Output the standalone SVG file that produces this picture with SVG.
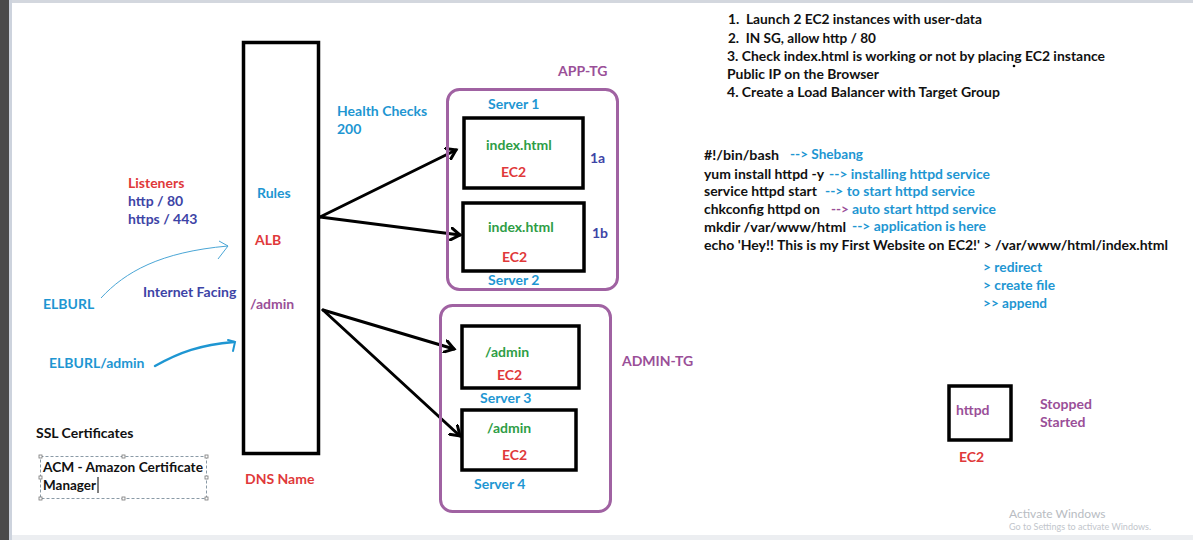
<svg xmlns="http://www.w3.org/2000/svg" width="1193" height="540" viewBox="0 0 1193 540">
<style>
text{font-family:"Lato","Liberation Sans",sans-serif;font-weight:bold;font-size:14px}
.k{fill:#111}
.r{fill:#e0393a}
.b{fill:#1e96d2}
.i{fill:#3d44a6}
.g{fill:#2e9d46}
.p{fill:#9a4f98}
.box{fill:none;stroke:#000;stroke-width:3.5}
.tg{fill:none;stroke:#a062a2;stroke-width:3}
.con{fill:none;stroke:#000;stroke-width:3;stroke-linecap:round}
</style>
<defs>
<marker id="ah" markerWidth="14" markerHeight="14" refX="10" refY="7" orient="auto" markerUnits="userSpaceOnUse">
<path d="M1,1 L10,7 L1,13" fill="none" stroke="#000" stroke-width="3" stroke-linecap="round"/>
</marker>
</defs>
<rect width="1193" height="540" fill="#fff"/>
<rect x="0" y="0" width="1193" height="3" fill="#d3d7de"/>
<rect x="0" y="535" width="1193" height="5" fill="#eceef1"/>
<rect x="0" y="0" width="9" height="540" fill="#4a4a4a"/>
<rect x="9" y="0" width="3" height="540" fill="#cdd3dd"/>

<g id="connectors">
<line class="con" x1="320" y1="217" x2="456" y2="150" marker-end="url(#ah)"/>
<line class="con" x1="320" y1="217" x2="460" y2="235" marker-end="url(#ah)"/>
<line class="con" x1="323" y1="310" x2="454" y2="349" marker-end="url(#ah)"/>
<line class="con" x1="323" y1="310" x2="460" y2="436" marker-end="url(#ah)"/>
<path d="M101,298 C125,272 160,252 228,246" fill="none" stroke="#4aa6d6" stroke-width="1"/>
<path d="M219,241 L228,246 L218,259" fill="none" stroke="#4aa6d6" stroke-width="1"/>
<path d="M155,366 C180,352 200,345 234,342" fill="none" stroke="#1e96d2" stroke-width="2.5" stroke-linecap="round"/>
<path d="M228,340 L235,342 L233,351" fill="none" stroke="#1e96d2" stroke-width="2" stroke-linecap="round"/>
</g>

<g id="alb">
<rect class="box" x="243.5" y="42.5" width="75" height="411" stroke-width="3"/>
<text class="b" x="257" y="198">Rules</text>
<text class="r" x="255" y="245">ALB</text>
<text class="p" x="250" y="309">/admin</text>
<text class="r" x="245" y="484">DNS Name</text>
</g>

<g id="listeners">
<text class="r" x="128" y="188">Listeners</text>
<text class="i" x="128" y="206">http / 80</text>
<text class="i" x="128" y="224">https / 443</text>
</g>
<text class="i" x="143" y="297">Internet Facing</text>
<g id="elburl"><text class="b" x="43" y="309">ELBURL</text></g>
<g id="elburl-admin"><text class="b" x="49" y="368">ELBURL/admin</text></g>

<g id="ssl">
<text class="k" x="36" y="438">SSL Certificates</text>
<rect x="40.5" y="456.5" width="166" height="42" fill="none" stroke="#8a9aa6" stroke-width="1" stroke-dasharray="3,2"/>
<g fill="#fff" stroke="#777" stroke-width="0.8">
<rect x="39" y="455" width="3" height="3"/><rect x="122" y="455" width="3" height="3"/><rect x="205" y="455" width="3" height="3"/>
<rect x="39" y="497" width="3" height="3"/><rect x="122" y="497" width="3" height="3"/><rect x="205" y="497" width="3" height="3"/>
<rect x="39" y="476" width="3" height="3"/><rect x="205" y="476" width="3" height="3"/>
</g>
<text class="k" x="43" y="472" textLength="160" lengthAdjust="spacingAndGlyphs">ACM - Amazon Certificate</text>
<text class="k" x="43" y="490" textLength="53" lengthAdjust="spacingAndGlyphs">Manager</text>
<line x1="98" y1="477" x2="98" y2="493" stroke="#000" stroke-width="1"/>
</g>

<g id="app-tg">
<rect class="tg" x="447.5" y="89.5" width="170" height="200" rx="12"/>
<text class="p" x="558" y="76">APP-TG</text>
<text class="b" x="337" y="116">Health Checks</text>
<text class="b" x="337" y="134">200</text>
</g>
<g id="server1">
<rect class="box" x="464" y="118" width="119" height="70"/>
<text class="b" x="488" y="109">Server 1</text>
<text class="g" x="486" y="150">index.html</text>
<text class="r" x="501" y="177">EC2</text>
<text class="i" x="590" y="163">1a</text>
</g>
<g id="server2">
<rect class="box" x="463" y="203" width="121" height="68"/>
<text class="g" x="488" y="232">index.html</text>
<text class="r" x="502" y="262">EC2</text>
<text class="i" x="592" y="238">1b</text>
<text class="b" x="488" y="285">Server 2</text>
</g>

<g id="admin-tg">
<rect class="tg" x="440.5" y="305.5" width="170" height="206" rx="12"/>
<text class="p" x="622" y="366">ADMIN-TG</text>
</g>
<g id="server3">
<rect class="box" x="462" y="326" width="117" height="62"/>
<text class="g" x="485" y="357">/admin</text>
<text class="r" x="497" y="380">EC2</text>
<text class="b" x="480" y="403">Server 3</text>
</g>
<g id="server4">
<rect class="box" x="462" y="410" width="114" height="60"/>
<text class="g" x="487" y="433">/admin</text>
<text class="r" x="502" y="460">EC2</text>
<text class="b" x="474" y="489">Server 4</text>
</g>

<g id="steps">
<text class="k" x="728" y="24" textLength="254" lengthAdjust="spacingAndGlyphs" xml:space="preserve">1.  Launch 2 EC2 instances with user-data</text>
<text class="k" x="728" y="43" textLength="148" lengthAdjust="spacingAndGlyphs" xml:space="preserve">2.  IN SG, allow http / 80</text>
<text class="k" x="727" y="61" textLength="378" lengthAdjust="spacingAndGlyphs">3. Check index.html is working or not by placing EC2 instance</text>
<text class="k" x="727" y="79" textLength="152" lengthAdjust="spacingAndGlyphs">Public IP on the Browser</text>
<text class="k" x="727" y="97" textLength="273" lengthAdjust="spacingAndGlyphs">4. Create a Load Balancer with Target Group</text>
<circle cx="1014" cy="66" r="1.3" fill="#000"/>
</g>

<g id="script">
<text class="k" x="704" y="160" textLength="75" lengthAdjust="spacingAndGlyphs">#!/bin/bash</text>
<text class="b" x="790" y="159" textLength="73" lengthAdjust="spacingAndGlyphs">--&gt; Shebang</text>
<text class="k" x="704" y="179" textLength="120" lengthAdjust="spacingAndGlyphs">yum install httpd -y</text>
<text class="b" x="829" y="179" textLength="161" lengthAdjust="spacingAndGlyphs">--&gt; installing httpd service</text>
<text class="k" x="704" y="196" textLength="113" lengthAdjust="spacingAndGlyphs">service httpd start</text>
<text class="b" x="825" y="196" textLength="150" lengthAdjust="spacingAndGlyphs">--&gt; to start httpd service</text>
<text class="k" x="704" y="214" textLength="116" lengthAdjust="spacingAndGlyphs">chkconfig httpd on</text>
<text class="p" x="831" y="214" textLength="18" lengthAdjust="spacingAndGlyphs">--&gt;</text>
<text class="b" x="852" y="214" textLength="144" lengthAdjust="spacingAndGlyphs">auto start httpd service</text>
<text class="k" x="704" y="232" textLength="142" lengthAdjust="spacingAndGlyphs">mkdir /var/www/html</text>
<text class="b" x="852" y="231" textLength="134" lengthAdjust="spacingAndGlyphs">--&gt; application is here</text>
<text class="k" x="704" y="250" textLength="464" lengthAdjust="spacingAndGlyphs">echo 'Hey!! This is my First Website on EC2!' &gt; /var/www/html/index.html</text>
<text class="b" x="983" y="272" textLength="59" lengthAdjust="spacingAndGlyphs">&gt; redirect</text>
<text class="b" x="983" y="290" textLength="72" lengthAdjust="spacingAndGlyphs">&gt; create file</text>
<text class="b" x="983" y="308" textLength="64" lengthAdjust="spacingAndGlyphs">&gt;&gt; append</text>
</g>

<g id="ec2-httpd">
<rect class="box" x="949" y="386" width="62" height="54"/>
<text class="p" x="956" y="415">httpd</text>
<text class="r" x="959" y="462">EC2</text>
<text class="p" x="1040" y="409">Stopped</text>
<text class="p" x="1040" y="427">Started</text>
</g>

<text x="1009" y="518" style="font-weight:normal;font-size:12px;fill:#b8bcc2">Activate Windows</text>
<text x="1009" y="530" style="font-weight:normal;font-size:9px;fill:#c2c6cc">Go to Settings to activate Windows.</text>
</svg>
